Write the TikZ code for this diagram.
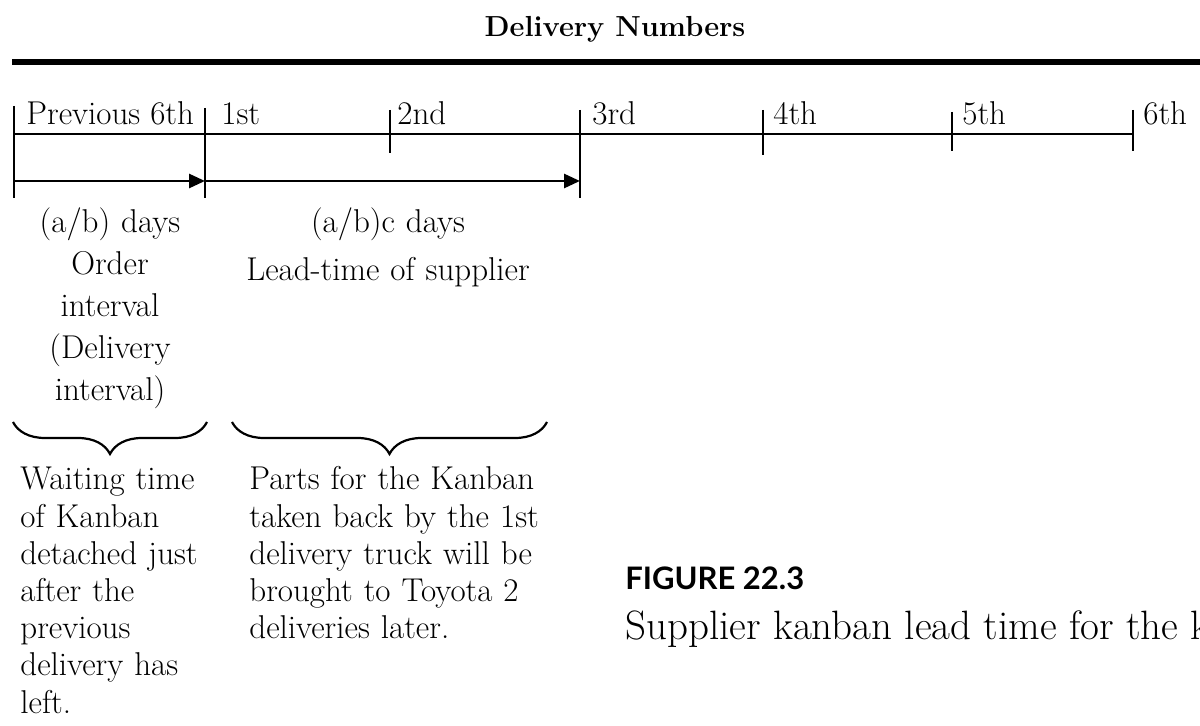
\documentclass[tikz,border=0pt]{standalone}
\usepackage{fontspec}
\newfontfamily\capsans{Lato}
\usetikzlibrary{arrows.meta,decorations.pathreplacing}
\begin{document}
\begin{tikzpicture}[x=0.5pt,y=-0.5pt,
  lbl/.style={inner sep=0pt,font=\fontsize{16.5}{18.6}\selectfont},
  blk/.style={lbl,align=left,text width=#1},
  cblk/.style={inner sep=0pt,align=center,text width=#1,font=\fontsize{16.5}{21}\selectfont},
  axis/.style={line width=1.4pt},
  tick/.style={line width=1.4pt},
  arr/.style={line width=1.4pt,-{Triangle[length=8pt,width=7pt]}},
  brc/.style={line width=1.1pt,decorate,decoration={brace,mirror,amplitude=16pt,aspect=0.5}}]
\clip (0,0) rectangle (1200,726);
\fill[white] (0,0) rectangle (1200,726);
% title and rule
\node[inner sep=0pt,anchor=base,font=\fontsize{14.5}{18}\selectfont\bfseries] (title) at (615,37) {Delivery Numbers};
\coordinate (r0) at (12,62);
\coordinate (r1) at (1200,62);
\draw[line width=3pt] (r0) -- (r1);
% ticks
\coordinate (t0) at (14,134);
\coordinate (t1) at (205,134);
\coordinate (t2) at (390,134);
\coordinate (t3) at (580,134);
\coordinate (t4) at (763,134);
\coordinate (t5) at (952,134);
\coordinate (t6) at (1133,134);
\draw[axis] (t0) -- (t6);
\draw[tick] (14,106) -- (14,198);
\draw[tick] (205,108) -- (205,198);
\draw[tick] (390,110) -- (390,153);
\draw[tick] (580,110) -- (580,198);
\draw[tick] (763,110) -- (763,155);
\draw[tick] (952,112) -- (952,151);
\draw[tick] (1133,110) -- (1133,151);
% labels
\node[lbl,anchor=base west] (l0) at (26,125) {Previous 6th};
\node[lbl,anchor=base west] (l1) at (221,125) {1st};
\node[lbl,anchor=base west] (l2) at (397,125) {2nd};
\node[lbl,anchor=base west] (l3) at (592,125) {3rd};
\node[lbl,anchor=base west] (l4) at (773,125) {4th};
\node[lbl,anchor=base west] (l5) at (962,125) {5th};
\node[lbl,anchor=base west] (l6) at (1143,125) {6th};
% arrows
\coordinate (a0) at (14,181);
\coordinate (a1) at (205,181);
\coordinate (a2) at (580,181);
\draw[arr] (a0) -- (a1);
\draw[arr] (a1) -- (a2);
% interval texts
\node[cblk=100pt,anchor=base] (oi) at (110,233) {(a/b) days\\Order\\interval\\(Delivery\\interval)};
\node[cblk=200pt,anchor=base] (lt) at (388,233) {(a/b)c days\\[3pt]Lead-time of supplier};
% braces
\coordinate (b0) at (13,422);
\coordinate (b1) at (207,422);
\coordinate (b2) at (232,422);
\coordinate (b3) at (547,422);
\draw[brc] (b0) -- (b1);
\draw[brc] (b2) -- (b3);
% bottom texts
\node[blk=110pt,anchor=base west] (wt) at (20,490) {Waiting time\\of Kanban\\detached just\\after the\\previous\\delivery has\\left.};
\node[blk=170pt,anchor=base west] (pk) at (249,490) {Parts for the Kanban\\taken back by the 1st\\delivery truck will be\\brought to Toyota 2\\deliveries later.};
% caption
\node[inner sep=0pt,anchor=base west,font=\capsans\fontsize{15.5}{20}\selectfont\bfseries] (fig) at (625,590) {FIGURE 22.3};
\node[inner sep=0pt,anchor=base west,font=\fontsize{20.5}{24}\selectfont] (cap) at (625,640) {Supplier kanban lead time for the k};
\end{tikzpicture}
\end{document}
